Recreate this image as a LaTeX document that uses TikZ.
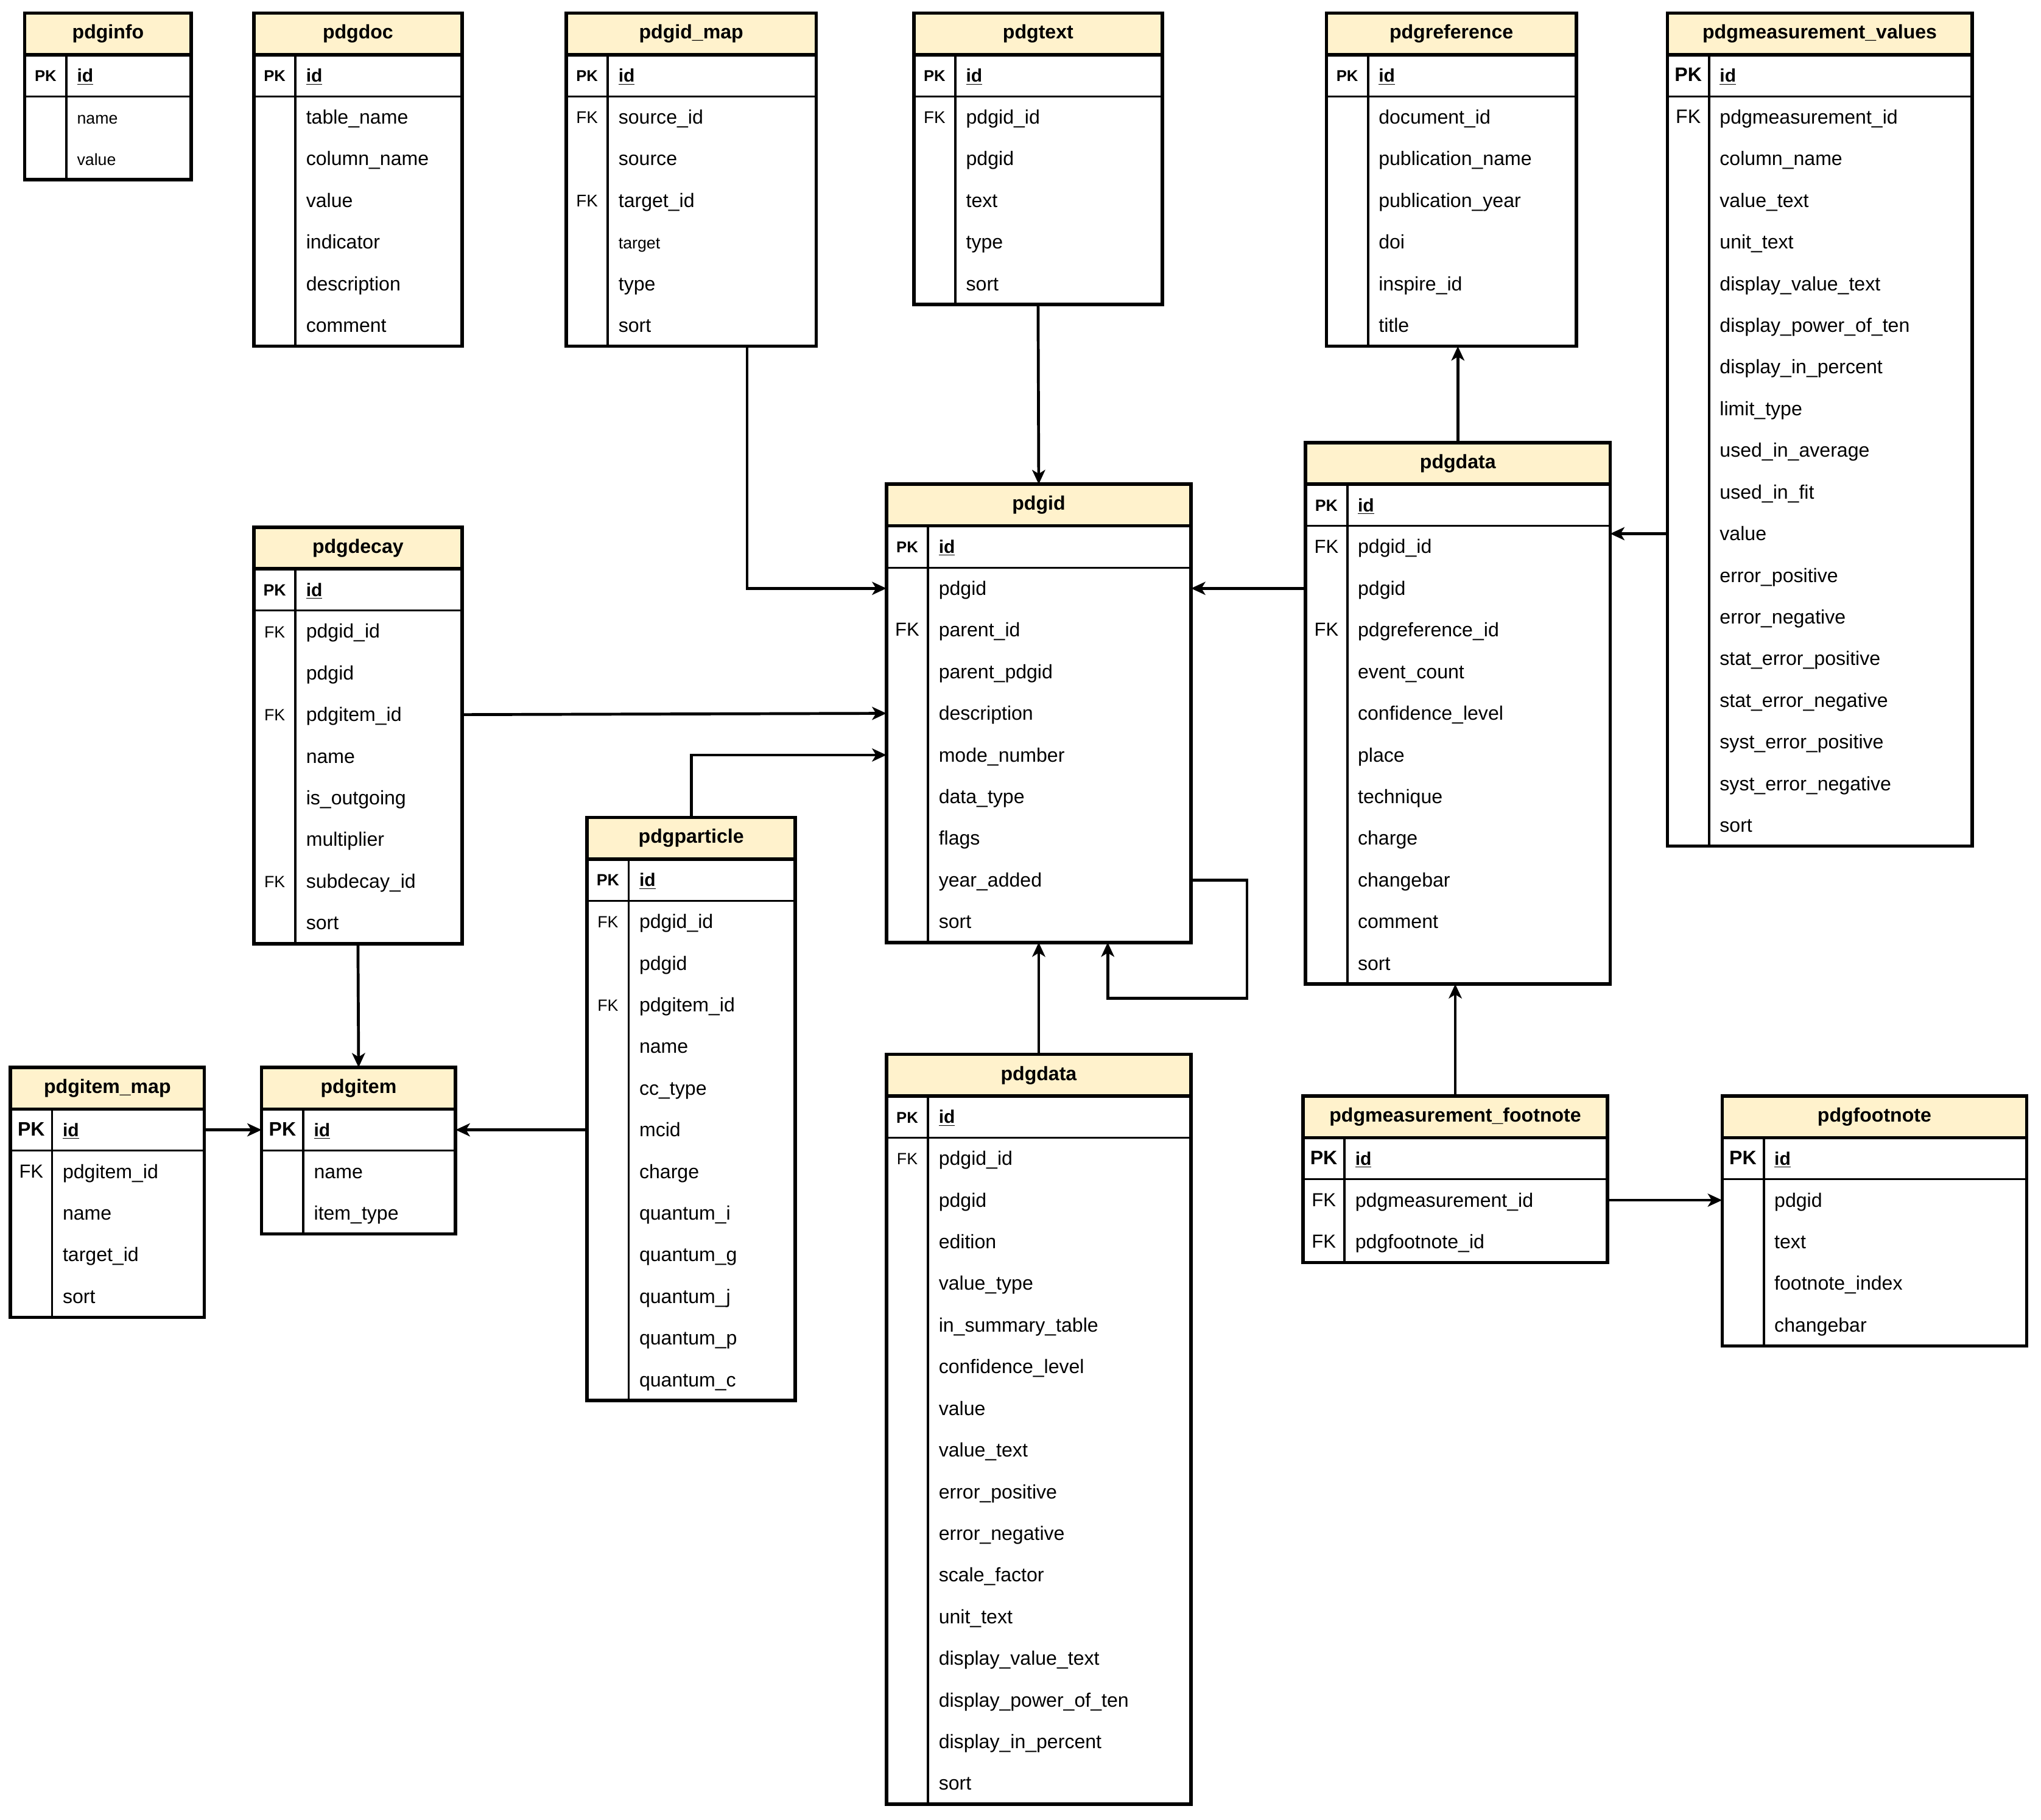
\documentclass[tikz,border=0pt]{standalone}
\usepackage{fontspec}
\setmainfont{Liberation Sans}
\usetikzlibrary{positioning,fit,arrows.meta}
\definecolor{headfill}{HTML}{FFF2CC}

\newcommand{\lesser}[1]{{\fontsize{12.5}{14}\selectfont #1}}

% one table: name, x, y, width, title, PK size, FK size, rows (key/field)
\newcommand{\dbtable}[8]{%
	\node[tabhead, minimum width=#4, anchor=north west] (#1-h) at (#2,#3) {#5};
	\node[tabrow, minimum width=#4, below=0pt of #1-h] (#1-r1) {};
	\node[keycell, font=\bfseries\fontsize{#6}{#6}\selectfont] at ([xshift=16pt,yshift=-4.6pt]#1-r1.west) {PK};
	\node[fieldcell, font=\bfseries\fontsize{14}{16}\selectfont] at ([xshift=40pt,yshift=-5pt]#1-r1.west) {\underline{id}};
	\foreach \keyname/\fieldname [count=\i from 2, remember=\i as \j (initially 1)] in {#8} {
		\node[tabrow, minimum width=#4, below=0pt of #1-r\j] (#1-r\i) {};
		\node[keycell, font=\fontsize{#7}{#7}\selectfont] at ([xshift=16pt,yshift=-4.8pt]#1-r\i.west) {\keyname};
		\node[fieldcell] at ([xshift=40pt,yshift=-5.2pt]#1-r\i.west) {\fieldname};
		\xdef\lastrow{\i}
	}
	\node[tabframe, fit=(#1-h)(#1-r\lastrow)] (#1) {};
	\draw[keyline] ([xshift=32pt]#1-r1.north west) -- ([xshift=32pt]#1-r\lastrow.south west);
	\draw[pkline] (#1-r1.south west) -- (#1-r1.south east);
	\draw[headline] (#1-h.south west) -- (#1-h.south east);
}

\begin{document}
\begin{tikzpicture}[
		x=1pt, y=-1pt,
		tabhead/.style={rectangle, fill=headfill, inner sep=0pt, outer sep=0pt, minimum height=32pt, font=\bfseries\fontsize{15}{18}\selectfont},
		tabrow/.style={rectangle, inner sep=0pt, outer sep=0pt, minimum height=32pt},
		keycell/.style={anchor=base, inner sep=0pt},
		fieldcell/.style={anchor=base west, inner sep=0pt, font=\fontsize{15}{18}\selectfont},
		tabframe/.style={rectangle, draw=black, line width=2.6pt, inner sep=0pt, outer sep=0pt},
		keyline/.style={line width=1.8pt},
		pkline/.style={line width=1.4pt},
		headline/.style={line width=2.6pt},
		fk/.style={line width=2.2pt, -{Stealth[length=11pt, width=10pt, inset=3pt]}}
	]
	\useasboundingbox (0,0) rectangle (1568,1398);

	\dbtable{pdginfo}{19}{10}{128}{pdginfo}{12}{12}{/\lesser{name}, /\lesser{value}}
	\dbtable{pdgdoc}{195}{10}{160}{pdgdoc}{12}{12}{/table\_name, /column\_name, /value, /indicator, /description, /comment}
	\dbtable{pdgid_map}{435}{10}{192}{pdgid\_map}{12}{13}{FK/source\_id, /source, FK/target\_id, /\lesser{target}, /type, /sort}
	\dbtable{pdgtext}{702}{10}{191}{pdgtext}{12}{13}{FK/pdgid\_id, /pdgid, /text, /type, /sort}
	\dbtable{pdgreference}{1019}{10}{192}{pdgreference}{12}{12}{/document\_id, /publication\_name, /publication\_year, /doi, /inspire\_id, /title}
	\dbtable{pdgmeasurement_values}{1281}{10}{234}{pdgmeasurement\_values}{15}{15}{FK/pdgmeasurement\_id, /column\_name, /value\_text, /unit\_text,
		/display\_value\_text, /display\_power\_of\_ten, /display\_in\_percent, /limit\_type, /used\_in\_average, /used\_in\_fit, /value,
		/error\_positive, /error\_negative, /stat\_error\_positive, /stat\_error\_negative, /syst\_error\_positive, /syst\_error\_negative, /sort}
	\dbtable{pdgmeasurement}{1003}{340}{234}{pdgdata}{12.5}{14.5}{FK/pdgid\_id, /pdgid, FK/pdgreference\_id, /event\_count, /confidence\_level,
		/place, /technique, /charge, /changebar, /comment, /sort}
	\dbtable{pdgid}{681}{372}{234}{pdgid}{12}{14.5}{/pdgid, FK/parent\_id, /parent\_pdgid, /description, /mode\_number, /data\_type, /flags, /year\_added, /sort}
	\dbtable{pdgdecay}{195}{405}{160}{pdgdecay}{12.5}{12.5}{FK/pdgid\_id, /pdgid, FK/pdgitem\_id, /name, /is\_outgoing, /multiplier, FK/subdecay\_id, /sort}
	\dbtable{pdgparticle}{451}{628}{160}{pdgparticle}{12.5}{12.5}{FK/pdgid\_id, /pdgid, FK/pdgitem\_id, /name, /cc\_type, /mcid, /charge,
		/quantum\_i, /quantum\_g, /quantum\_j, /quantum\_p, /quantum\_c}
	\dbtable{pdgdata}{681}{810}{234}{pdgdata}{12}{12.5}{FK/pdgid\_id, /pdgid, /edition, /value\_type, /in\_summary\_table, /confidence\_level, /value,
		/value\_text, /error\_positive, /error\_negative, /scale\_factor, /unit\_text, /display\_value\_text, /display\_power\_of\_ten, /display\_in\_percent, /sort}
	\dbtable{pdgitem_map}{8}{820}{149}{pdgitem\_map}{15}{14.5}{FK/pdgitem\_id, /name, /target\_id, /sort}
	\dbtable{pdgitem}{201}{820}{149}{pdgitem}{15}{15}{/name, /item\_type}
	\dbtable{pdgmeasurement_footnote}{1001}{842}{234}{pdgmeasurement\_footnote}{15}{14.5}{FK/pdgmeasurement\_id, FK/pdgfootnote\_id}
	\dbtable{pdgfootnote}{1323}{842}{234}{pdgfootnote}{15}{15}{/pdgid, /text, /footnote\_index, /changebar}

	% foreign keys
	\begin{scope}[fk]
	\draw ([xshift=43pt]pdgid_map.south) |- (pdgid-r2.west);
	\draw (pdgtext.south) -- (pdgid.north);
	\draw (pdgmeasurement-r3.west) -- (pdgid-r2.east);
	\draw (pdgmeasurement.north) -- (pdgmeasurement.north |- pdgreference.south);
	\draw (pdgmeasurement_values-r12.west) -- (pdgmeasurement_values-r12.west -| pdgmeasurement.east);
	\draw (pdgdecay-r4.east) -- (pdgid-r5.west);
	\draw (pdgparticle.north) |- (pdgid-r6.west);
	\draw (pdgid-r9.east) -- ++(43,0) -- ++(0,91) -| ([xshift=53pt]pdgid.south);
	\draw (pdgdata.north) -- (pdgid.south);
	\draw (pdgdecay.south) -- (pdgitem.north);
	\draw (pdgitem_map-r1.east) -- (pdgitem-r1.west);
	\draw (pdgparticle-r7.west) -- (pdgitem-r1.east);
	\draw (pdgmeasurement_footnote.north) -- (pdgmeasurement_footnote.north |- pdgmeasurement.south);
	\draw (pdgmeasurement_footnote-r2.east) -- (pdgfootnote-r2.west);
	\end{scope}
\end{tikzpicture}
\end{document}
